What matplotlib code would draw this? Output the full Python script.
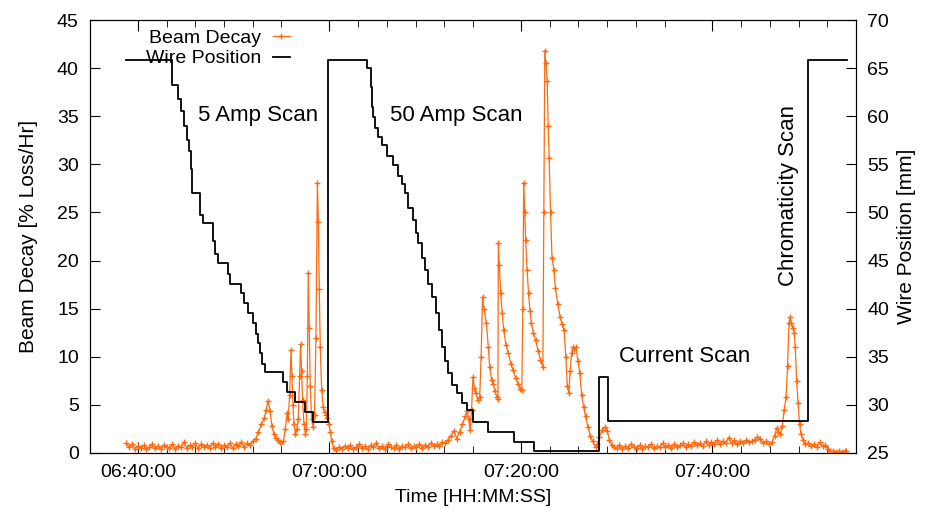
import matplotlib
matplotlib.use("Agg")
import matplotlib.pyplot as plt
from matplotlib.ticker import FixedLocator, FuncFormatter

# time in minutes after 06:00
beam_t = [38.8, 39.1, 39.4, 39.7, 40.0, 40.3, 40.6, 40.9, 41.2, 41.5, 41.8, 42.1, 42.4, 42.7,
          43.0, 43.3, 43.6, 43.9, 44.2, 44.5, 44.8, 45.1, 45.4, 45.7, 46.0, 46.3, 46.6, 46.9,
          47.2, 47.5, 47.8, 48.1, 48.4, 48.7, 49.0, 49.3, 49.6, 49.9, 50.2, 50.5, 50.8, 51.1,
          51.4, 51.7, 52.0, 52.3,
          52.6, 52.9, 53.2, 53.4, 53.6, 53.8, 54.0, 54.2, 54.4, 54.6, 54.8, 55.0, 55.2, 55.4,
          55.6, 55.7, 55.85, 56.0, 56.1, 56.2, 56.3, 56.45, 56.6, 56.75, 56.9, 57.0, 57.1, 57.2,
          57.35, 57.5, 57.6, 57.7, 57.8, 57.9, 58.0, 58.15, 58.3, 58.45, 58.6, 58.75, 58.85,
          58.95, 59.05, 59.2, 59.35, 59.5, 59.65, 59.8, 59.95, 60.1, 60.25, 60.45,
          60.7, 61.0, 61.3, 61.6, 61.9, 62.2, 62.5, 62.8, 63.1, 63.4, 63.7, 64.0, 64.3, 64.6,
          64.9, 65.2, 65.5, 65.8, 66.1, 66.4, 66.7, 67.0, 67.3, 67.6, 67.9, 68.2, 68.5, 68.8,
          69.1, 69.4, 69.7, 70.0, 70.3, 70.6, 70.9, 71.2, 71.5, 71.8, 72.1, 72.4, 72.7, 73.0,
          73.3, 73.6, 73.9, 74.2, 74.4, 74.55, 74.7, 74.85, 75.0, 75.15, 75.3, 75.5, 75.7,
          75.85, 76.0, 76.15, 76.4, 76.6, 76.75, 76.95, 77.1, 77.3, 77.5, 77.6, 77.65, 77.75,
          77.9, 78.05, 78.2, 78.45, 78.7, 78.95, 79.2, 79.45, 79.7, 79.95, 80.1, 80.2, 80.3,
          80.4, 80.5, 80.65, 80.8, 80.95, 81.1, 81.3, 81.55, 81.8, 82.05, 82.3, 82.4, 82.5,
          82.6, 82.75, 82.85, 82.95, 83.1, 83.25, 83.45, 83.6, 83.85, 84.1, 84.3, 84.5, 84.7,
          84.85, 85.0, 85.15, 85.3, 85.45, 85.6, 85.75, 85.95, 86.15, 86.35, 86.55, 86.75,
          87.0, 87.25, 87.5, 87.8, 88.0, 88.2, 88.5, 88.8, 89.0, 89.25, 89.5, 89.75,
          90.0, 90.3, 90.6, 90.9, 91.2, 91.5, 91.8, 92.1, 92.4, 92.7, 93.0, 93.3, 93.6, 93.9,
          94.2, 94.5, 94.8, 95.1, 95.4, 95.7, 96.0, 96.3, 96.6, 96.9, 97.2, 97.5, 97.8, 98.1,
          98.4, 98.7, 99.0, 99.3, 99.6, 99.9, 100.2, 100.5, 100.8, 101.1, 101.4, 101.7, 102.0,
          102.3, 102.6, 102.9, 103.2, 103.5, 103.8, 104.1,
          104.4, 104.7, 105.0, 105.3, 105.6, 105.9, 106.2, 106.5, 106.7, 106.9, 107.1, 107.3,
          107.5, 107.7, 107.85, 108.0, 108.1, 108.25, 108.4, 108.55, 108.65, 108.8, 108.95,
          109.1, 109.25, 109.45, 109.7, 110.0, 110.3, 110.6, 110.9, 111.2, 111.5, 111.8, 112.1,
          112.3, 112.6, 112.9, 113.2, 113.5, 113.8, 114.0]
beam_v = [1.0, 0.6, 0.9, 0.4, 0.7, 0.5, 0.8, 0.4, 0.6, 0.9, 0.5, 0.7, 0.4, 0.8,
          0.6, 0.5, 0.9, 0.4, 0.7, 0.6, 1.1, 0.5, 0.8, 0.6, 1.0, 0.5, 0.9, 0.6,
          0.8, 0.5, 1.0, 0.6, 0.9, 0.5, 0.8, 0.6, 1.0, 0.5, 0.9, 0.7, 1.1, 0.6,
          1.0, 0.8, 1.2, 1.5,
          2.2, 3.0, 3.6, 4.5, 5.4, 4.4, 2.8, 2.0, 1.6, 1.4, 1.1, 1.0, 1.2, 2.5,
          4.2, 3.5, 6.0, 10.7, 8.0, 5.0, 3.0, 2.0, 2.5, 3.5, 8.0, 11.3, 8.5, 5.5,
          3.0, 2.0, 2.5, 8.0, 18.7, 13.0, 7.0, 3.5, 2.7, 4.0, 12.0, 28.1, 24.0,
          17.0, 11.0, 6.5, 4.8, 4.3, 4.0, 3.6, 3.0, 2.2, 1.2, 0.5,
          0.3, 0.6, 0.4, 0.7, 0.5, 0.8, 0.4, 0.6, 0.9, 0.5, 0.7, 0.4, 0.8, 0.6,
          1.0, 0.5, 0.7, 0.4, 0.9, 0.6, 0.5, 0.8, 0.4, 0.7, 0.6, 0.9, 0.5, 0.7,
          0.6, 0.9, 0.5, 0.8, 0.6, 1.0, 0.7, 0.9, 0.7, 1.1, 1.0, 1.4, 1.8, 2.3,
          1.5, 2.2, 3.0, 3.8, 4.4, 3.5, 2.4, 4.5, 7.9, 6.8, 6.2, 5.5, 5.8,
          10.0, 16.2, 15.0, 13.5, 11.0, 8.9, 7.6, 7.2, 6.4, 5.8, 5.6, 21.8, 19.5,
          16.6, 14.5, 12.8, 11.2, 10.4, 9.3, 8.6, 7.8, 7.2, 6.6, 6.5, 15.0, 28.1,
          25.0, 22.1, 19.0, 16.6, 14.8, 13.5, 12.5, 11.7, 10.6, 9.7, 8.9, 25.0, 41.8,
          40.5, 38.7, 34.0, 30.7, 25.0, 20.3, 19.0, 17.2, 15.5, 14.1, 13.4, 12.8, 10.0,
          7.0, 6.2, 8.5, 10.4, 11.0, 10.8, 11.0, 9.6, 8.3, 6.0, 4.8, 3.8,
          2.7, 1.8, 1.2, 0.6, 0.9, 1.7, 2.4, 2.7, 2.3, 1.4, 0.8, 0.6,
          0.5, 0.8, 0.4, 0.7, 0.5, 0.9, 0.6, 0.5, 0.8, 0.4, 0.7, 0.6, 0.9, 0.5,
          0.7, 0.6, 1.0, 0.6, 0.8, 0.5, 0.9, 0.6, 0.8, 1.0, 0.6, 0.9, 0.7, 1.1,
          0.8, 1.0, 0.7, 1.2, 0.8, 1.1, 0.9, 1.3, 0.9, 1.2, 1.0, 1.6, 1.0,
          1.3, 0.9, 1.2, 1.0, 1.3, 1.1, 1.2,
          1.4, 1.7, 1.5, 1.0, 1.2, 0.9, 1.1, 1.8, 2.6, 2.2, 2.0, 2.8,
          4.5, 5.8, 9.0, 13.5, 14.1, 13.5, 13.0, 12.5, 11.0, 7.5, 5.2,
          3.0, 2.0, 1.3, 0.9, 1.0, 0.7, 0.9, 0.6, 1.1, 0.7, 0.8, 0.4,
          0.2, 0.2, 0.15, 0.2, 0.15, 0.2, 0.2]

wire_t = [38.8, 43.6, 44.2, 44.5, 44.8, 45.1, 45.3, 45.5, 45.7, 46.5, 46.8, 47.9, 48.1, 48.4,
          49.4, 49.6, 50.8, 51.1, 51.5, 52.0, 52.3, 52.5, 52.8, 53.0, 53.3, 55.2, 55.6, 56.4,
          57.5, 58.3, 59.9,
          63.96, 64.3, 64.5, 64.6, 64.8, 65.1, 65.5, 66.0, 66.6, 67.2, 67.6, 67.9, 68.2, 68.7,
          69.0, 69.3, 69.7, 70.0, 70.3, 70.7, 71.1, 71.4, 71.8, 72.1, 72.4, 72.8, 73.3, 73.9,
          74.4, 75.0, 76.6, 79.3, 81.4, 88.2, 89.1, 110.0, 114.1]
wire_mm = [65.8, 63.2, 61.8, 60.5, 59.0, 57.5, 56.4, 54.5, 52.0, 49.7, 48.9, 47.0, 45.7, 44.7,
           43.6, 42.6, 41.6, 40.6, 39.5, 38.5, 37.4, 36.4, 35.4, 34.3, 33.4, 32.4, 31.3, 30.3,
           29.3, 28.2, 65.8,
           65.0, 63.0, 61.0, 59.9, 58.8, 57.8, 57.0, 55.9, 54.9, 53.8, 53.0, 52.0, 50.5, 49.2,
           47.9, 46.8, 45.3, 44.0, 42.6, 41.2, 39.5, 37.8, 36.0, 34.6, 33.3, 32.1, 31.2, 30.2,
           29.5, 28.2, 27.2, 26.1, 25.2, 32.9, 28.3, 65.8, 65.8]

major_ticks = [40, 60, 80, 100]
minor_ticks = [m + k for m in [20, 40, 60, 80, 100] for k in [3, 6, 9, 12, 15]]

orange = '#ff6a10'
plt.rcParams['font.family'] = ['Liberation Sans', 'DejaVu Sans']

fig = plt.figure(figsize=(9.44, 5.16), dpi=100)
ax = fig.add_axes([0.0953, 0.1221, 0.8115, 0.8391])
ax2 = ax.twinx()

ax.plot(beam_t, beam_v, color=orange, lw=0.9, marker='+', ms=5, mew=1.0, label='Beam Decay')
ax2.plot(wire_t, wire_mm, color='black', lw=1.3, drawstyle='steps-post', label='Wire Position')

ax.set_xlim(35, 115)
ax.set_ylim(0, 45)
ax2.set_ylim(25, 70)
ax.set_yticks(range(0, 46, 5))
ax2.set_yticks(range(25, 71, 5))
ax.xaxis.set_major_locator(FixedLocator(major_ticks))
ax.xaxis.set_minor_locator(FixedLocator(minor_ticks))
ax.xaxis.set_major_formatter(FuncFormatter(lambda m, p: '%02d:%02d:00' % (6 + int(m) // 60, int(m) % 60)))

ax.tick_params(axis='x', which='both', direction='in', top=True, labelsize=14, pad=8)
ax.tick_params(axis='x', which='major', length=8)
ax.tick_params(axis='x', which='minor', length=5)
ax.tick_params(axis='y', direction='in', length=7, labelsize=14, pad=8)
ax2.tick_params(axis='y', direction='in', length=7, labelsize=14, pad=8)

ax.set_xlabel('Time [HH:MM:SS]', fontsize=14, labelpad=6)
ax.set_ylabel('Beam Decay [% Loss/Hr]', fontsize=15, labelpad=14)
ax2.set_ylabel('Wire Position [mm]', fontsize=15, labelpad=6)

ax.text(52.6, 35.1, '5 Amp Scan', fontsize=16, ha='center', va='center')
ax.text(73.3, 35.1, '50 Amp Scan', fontsize=16, ha='center', va='center')
ax.text(97.1, 10.0, 'Current Scan', fontsize=16, ha='center', va='center')
ax.text(108.0, 26.8, 'Chromaticity Scan', fontsize=16, ha='center', va='center', rotation=90)

h1, l1 = ax.get_legend_handles_labels()
h2, l2 = ax2.get_legend_handles_labels()
ax2.legend(h1 + h2, l1 + l2, loc='upper left', bbox_to_anchor=(0.055, 1.01), frameon=False,
           markerfirst=False, fontsize=14, handlelength=0.9, handletextpad=0.6,
           labelspacing=0.15, borderpad=0.2)

fig.savefig('out.png', dpi=100)
